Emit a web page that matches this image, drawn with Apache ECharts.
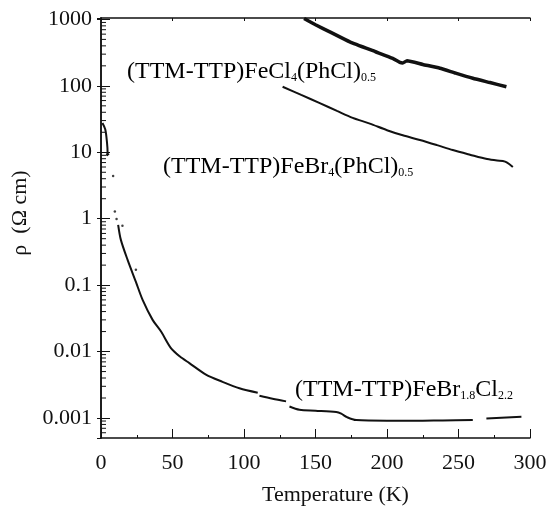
<!DOCTYPE html>
<html>
<head>
<meta charset="utf-8">
<script src="https://cdn.jsdelivr.net/npm/echarts@6/dist/echarts.min.js"></script>
<style>
  html, body { margin: 0; padding: 0; background: #fff; }
  #chart { width: 555px; height: 515px; }
</style>
</head>
<body>
<div id="chart"></div>
<script>
// (TTM-TTP)FeCl4(PhCl)0.5
var tempA = [142, 150, 160, 174, 192, 204, 209, 211, 214, 225, 237, 248, 260, 272, 283.5];
var rhoA  = [1030, 830, 650, 460, 326, 259, 225, 220, 239, 210, 184, 155, 130, 112, 97];

// (TTM-TTP)FeBr4(PhCl)0.5
var tempB = [127, 140, 153, 165, 176, 188, 200, 211, 223, 235, 246, 258, 270, 277, 281, 284, 288];
var rhoB  = [97, 73, 55, 42, 33, 27, 21.5, 18, 15.3, 12.8, 10.8, 9.2, 7.9, 7.5, 7.4, 7.0, 6.0];

// (TTM-TTP)FeBr1.8Cl2.2 : low temperature piece, stray points, main curve (null = gap)
var tempC0 = [1.0, 3.0, 4.2, 4.6, 4.0, 5.5];
var rhoC0  = [27.5, 22, 14, 10, 8.9, 9.6];
var tempCd = [8.5, 9.7, 10.9, 15.0, 24.4];
var rhoCd  = [4.4, 1.28, 0.99, 0.78, 0.17];
var tempC = [12, 13.9, 18.6, 24.4, 29.1, 36.1, 42, 48.9, 55, 61.8, 73.4, 85, 96.8, 109.6, null,
             110.8, 120, 129.4, null,
             131.8, 138.8, 150, 164.5, 168, 172, 178.5, 200, 220, 239, 260, null,
             269.5, 294];
var rhoC  = [0.81, 0.48, 0.24, 0.112, 0.060, 0.030, 0.020, 0.0113, 0.0085, 0.0067, 0.0045, 0.0035, 0.0028, 0.0024, null,
             0.00216, 0.00195, 0.00178, null,
             0.00149, 0.00133, 0.00129, 0.00123, 0.00116, 0.00103, 0.00093, 0.00091, 0.00091, 0.00092, 0.00093, null,
             0.00098, 0.00104];

// minor ticks of the log axis
var minorTicks = [];
[-4, -3, -2, -1, 0, 1, 2].forEach(function (e) {
  for (var m = 2; m <= 9; m++) {
    var v = m * Math.pow(10, e);
    if (v > 0.0005 && v < 1000) minorTicks.push(+v.toPrecision(3));
  }
});

function pairs(xs, ys) {
  return xs.map(function (x, i) {
    return (x === null || ys[i] === null) ? ['-', '-'] : [x, ys[i]];
  });
}

var font = 'Liberation Serif';
var ink = '#111';

var myChart = echarts.init(document.getElementById('chart'));

var rich = {
  a: { fontSize: 24, fontFamily: font, color: ink, lineHeight: 28, verticalAlign: 'bottom' },
  s: { fontSize: 12, fontFamily: font, color: ink, lineHeight: 12, verticalAlign: 'bottom' }
};

var option = {
  backgroundColor: '#fff',
  animation: false,
  grid: { left: 101, right: 25, top: 18, bottom: 77 },
  xAxis: [
    {
      type: 'value',
      min: 0,
      max: 300,
      interval: 50,
      name: 'Temperature (K)',
      nameLocation: 'middle',
      nameGap: 46,
      nameTextStyle: { fontFamily: font, fontSize: 22, color: ink, padding: [0, 0, 0, 40] },
      axisLine: { lineStyle: { color: ink, width: 1.5 } },
      axisTick: { inside: true, length: 9, lineStyle: { color: ink } },
      minorTick: { show: true, splitNumber: 2, length: 3, lineStyle: { color: ink } },
      axisLabel: { fontFamily: font, fontSize: 22, color: ink, margin: 14 },
      splitLine: { show: false }
    },
    {
      type: 'value',
      position: 'top',
      min: 0,
      max: 300,
      interval: 50,
      axisLine: { lineStyle: { color: ink, width: 1.5 } },
      axisTick: { inside: true, length: 3, lineStyle: { color: ink } },
      axisLabel: { show: false },
      splitLine: { show: false }
    }
  ],
  yAxis: [
    {
      type: 'log',
      logBase: 10,
      min: 0.0005,
      max: 1050,
      name: 'ρ  (Ω cm)',
      nameLocation: 'middle',
      nameGap: 67,
      nameTextStyle: { fontFamily: font, fontSize: 22, color: ink, padding: [0, 0, 0, 30] },
      axisLine: { lineStyle: { color: ink, width: 1.5 } },
      axisTick: { inside: true, length: 9, lineStyle: { color: ink } },
      axisLabel: {
        fontFamily: font, fontSize: 22, color: ink, margin: 9,
        showMinLabel: false, showMaxLabel: false,
        formatter: function (v) { return String(+v.toPrecision(3)); }
      },
      splitLine: { show: false }
    },
    {
      type: 'log',
      logBase: 10,
      min: 0.0005,
      max: 1050,
      position: 'right',
      axisLine: { lineStyle: { color: ink, width: 1.5 } },
      axisTick: { inside: true, length: 4, lineStyle: { color: ink } },
      axisLabel: { show: false },
      splitLine: { show: false }
    }
  ],
  graphic: [
    {
      type: 'text', x: 127, y: 70,
      style: { text: '{a|(TTM-TTP)FeCl}{s|4}{a|(PhCl)}{s|0.5}', rich: rich, verticalAlign: 'middle' }
    },
    {
      type: 'text', x: 163, y: 165,
      style: { text: '{a|(TTM-TTP)FeBr}{s|4}{a|(PhCl)}{s|0.5}', rich: rich, verticalAlign: 'middle' }
    },
    {
      type: 'text', x: 295, y: 388,
      style: { text: '{a|(TTM-TTP)FeBr}{s|1.8}{a|Cl}{s|2.2}', rich: rich, verticalAlign: 'middle' }
    }
  ],
  series: [
    {
      name: 'FeCl4',
      type: 'line',
      data: pairs(tempA, rhoA),
      smooth: 0.15,
      showSymbol: false,
      lineStyle: { color: ink, width: 3.5 }
    },
    {
      name: 'FeBr4',
      type: 'line',
      data: pairs(tempB, rhoB),
      smooth: 0.3,
      showSymbol: false,
      lineStyle: { color: ink, width: 2 }
    },
    {
      name: 'FeBrCl low',
      type: 'line',
      data: pairs(tempC0, rhoC0),
      smooth: 0.3,
      showSymbol: false,
      lineStyle: { color: ink, width: 2 }
    },
    {
      name: 'FeBrCl dots',
      type: 'scatter',
      data: pairs(tempCd, rhoCd),
      symbolSize: 2.5,
      itemStyle: { color: ink }
    },
    {
      name: 'FeBrCl',
      type: 'line',
      data: pairs(tempC, rhoC),
      smooth: 0.3,
      connectNulls: false,
      showSymbol: false,
      lineStyle: { color: ink, width: 2 }
    },
    {
      name: 'minor ticks',
      type: 'custom',
      silent: true,
      data: minorTicks.map(function (v) { return [0, v]; }),
      renderItem: function (params, api) {
        var p = api.coord([0, api.value(1)]);
        return {
          type: 'line',
          shape: { x1: p[0], y1: p[1], x2: p[0] + 5, y2: p[1] },
          style: { stroke: ink, lineWidth: 1 }
        };
      }
    }
  ]
};

option && myChart.setOption(option);
</script>
</body>
</html>
